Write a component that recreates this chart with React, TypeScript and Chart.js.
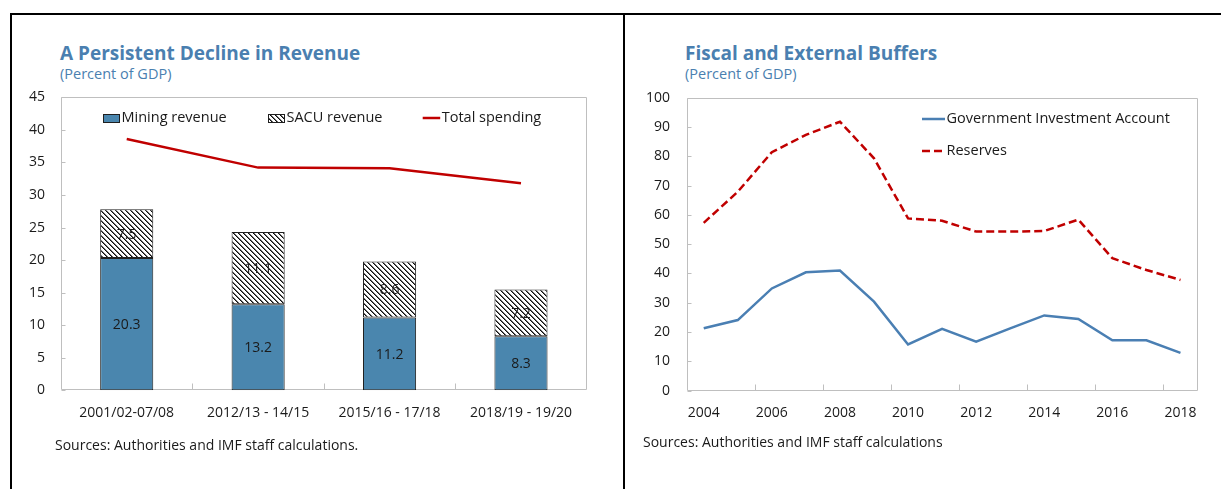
import React, { useEffect, useRef } from 'react';
import { Chart, registerables } from 'chart.js';

Chart.register(...registerables);

const FONT = '"Open Sans", "Noto Sans", sans-serif';

// ---------- Left chart data ----------
const revenuePeriods = ['2001/02-07/08', '2012/13 - 14/15', '2015/16 - 17/18', '2018/19 - 19/20'];
const miningRevenue = [20.3, 13.2, 11.2, 8.3];
const sacuRevenue = [7.5, 11.1, 8.6, 7.2];
const totalSpending = [38.6, 34.2, 34.1, 31.8];
const revenueAxis = { min: 0, max: 45, step: 5 };

// ---------- Right chart data ----------
const bufferYears = ['2004', '2005', '2006', '2007', '2008', '2009', '2010', '2011', '2012', '2013', '2014', '2015', '2016', '2017', '2018'];
const giaValues = [21.3, 24.1, 34.9, 40.4, 41.0, 30.4, 15.8, 21.1, 16.7, 21.3, 25.7, 24.5, 17.2, 17.2, 12.9];
const reservesValues = [57.3, 67.9, 81.4, 87.3, 91.8, 79.3, 58.8, 58.0, 54.3, 54.3, 54.5, 58.4, 45.2, 41.2, 37.8];
const bufferAxis = { min: 0, max: 100, step: 10 };

const BLUE_BAR = '#4a86ae';
const BLUE_LINE = '#4a7fb3';
const RED = '#c00000';
const TITLE_BLUE = '#4a7fb0';
const FRAME = '#bfbfbf';
const TEXT = '#1a1a1a';

function makeHatch(): CanvasPattern | string {
  const c = document.createElement('canvas');
  const n = 5;
  c.width = n;
  c.height = n;
  const g = c.getContext('2d');
  if (!g) return '#888';
  g.fillStyle = '#ffffff';
  g.fillRect(0, 0, n, n);
  for (let i = 0; i < n; i++) {
    g.fillStyle = '#0d0d0d';
    g.fillRect(i, i, 1, 1);
    g.fillStyle = '#6e6e6e';
    g.fillRect((i + 1) % n, i, 1, 1);
  }
  const p = g.createPattern(c, 'repeat');
  return p || '#888';
}

const noPad = (s: any) => {
  s.paddingTop = 0;
  s.paddingBottom = 0;
  s.paddingLeft = 0;
  s.paddingRight = 0;
};

// Frame around plot area + inside tick marks
const framePlugin = {
  id: 'frameTicks',
  beforeDatasetsDraw(chart: any, _args: any, opts: any) {
    const { ctx, chartArea: a, scales } = chart;
    ctx.save();
    ctx.strokeStyle = FRAME;
    ctx.lineWidth = 1;
    const l = Math.round(a.left) + 0.5;
    const r = Math.round(a.right) - 0.5;
    const t = Math.round(a.top) + 0.5;
    const b = Math.round(a.bottom) - 0.5;
    ctx.beginPath();
    ctx.rect(l, t, r - l, b - t);
    ctx.stroke();
    const ys = scales.y;
    ctx.beginPath();
    ys.ticks.forEach((tk: any) => {
      const y = Math.round(ys.getPixelForValue(tk.value)) + 0.5;
      ctx.moveTo(l, y);
      ctx.lineTo(l + 4, y);
    });
    const xs = scales.x;
    const every = opts.every || 1;
    const n = chart.data.labels.length;
    for (let i = every; i < n; i += every) {
      const x = Math.round((xs.getPixelForValue(i - 1) + xs.getPixelForValue(i)) / 2) + 0.5;
      ctx.moveTo(x, b);
      ctx.lineTo(x, b - 6);
    }
    ctx.stroke();
    ctx.restore();
  },
};

// Value labels inside bar segments
const barLabelPlugin = {
  id: 'barLabels',
  afterDatasetsDraw(chart: any) {
    const { ctx } = chart;
    ctx.save();
    ctx.font = `14px ${FONT}`;
    ctx.fillStyle = TEXT;
    ctx.textAlign = 'center';
    ctx.textBaseline = 'middle';
    chart.data.datasets.forEach((ds: any, di: number) => {
      if (ds.type !== 'bar') return;
      const meta = chart.getDatasetMeta(di);
      meta.data.forEach((el: any, i: number) => {
        const v = ds.data[i];
        ctx.fillText(v.toFixed(1), el.x, (el.y + el.base) / 2 + 1);
      });
    });
    ctx.restore();
  },
};

// Custom legend drawn inside plot area
const legendPlugin = {
  id: 'innerLegend',
  afterDraw(chart: any, _args: any, opts: any) {
    const { ctx, chartArea: a } = chart;
    ctx.save();
    ctx.font = `14.5px ${FONT}`;
    ctx.textBaseline = 'middle';
    ctx.textAlign = 'left';
    (opts.items || []).forEach((it: any) => {
      const x = a.left + it.dx;
      const y = a.top + it.dy;
      const ds = chart.data.datasets[it.dataset];
      if (it.kind === 'box') {
        ctx.fillStyle = ds.backgroundColor;
        ctx.fillRect(x, y - 4, 17, 8);
        ctx.strokeStyle = '#1f1f1f';
        ctx.lineWidth = 1;
        ctx.strokeRect(Math.round(x) + 0.5, Math.round(y - 4) + 0.5, 16, 8);
        ctx.fillStyle = TEXT;
        ctx.fillText(ds.label, x + 18.5, y);
      } else {
        ctx.strokeStyle = ds.borderColor;
        ctx.lineWidth = ds.borderWidth;
        ctx.setLineDash(ds.borderDash || []);
        ctx.beginPath();
        ctx.moveTo(x, y);
        ctx.lineTo(x + it.len, y);
        ctx.stroke();
        ctx.setLineDash([]);
        ctx.fillStyle = TEXT;
        ctx.fillText(ds.label, x + it.len + 1.5, y);
      }
    });
    ctx.restore();
  },
};

function RevenueChart() {
  const ref = useRef<HTMLCanvasElement | null>(null);
  useEffect(() => {
    if (!ref.current) return;
    const hatch = makeHatch();
    const chart = new Chart(ref.current, {
      type: 'bar',
      data: {
        labels: revenuePeriods,
        datasets: [
          {
            type: 'line',
            label: 'Total spending',
            data: totalSpending,
            borderColor: RED,
            borderWidth: 2.5,
            pointRadius: 0,
            tension: 0,
            stack: 'line',
            order: 0,
          } as any,
          {
            type: 'bar',
            label: 'Mining revenue',
            data: miningRevenue,
            backgroundColor: BLUE_BAR,
            borderColor: '#1f1f1f',
            borderWidth: 1,
            borderSkipped: false,
            barPercentage: 0.404,
            categoryPercentage: 1,
            stack: 'rev',
            order: 1,
          },
          {
            type: 'bar',
            label: 'SACU revenue',
            data: sacuRevenue,
            backgroundColor: hatch as any,
            borderColor: '#1f1f1f',
            borderWidth: 1,
            borderSkipped: false,
            barPercentage: 0.404,
            categoryPercentage: 1,
            stack: 'rev',
            order: 2,
          },
        ],
      },
      options: {
        responsive: false,
        animation: false,
        events: [],
        layout: { padding: { left: 0, top: 12.3, right: 33.3, bottom: 34.7 } },
        plugins: {
          legend: { display: false },
          tooltip: { enabled: false },
          frameTicks: { every: 1 },
          innerLegend: {
            items: [
              { dataset: 1, kind: 'box', dx: 42, dy: 20.7 },
              { dataset: 2, kind: 'box', dx: 207, dy: 20.7 },
              { dataset: 0, kind: 'line', dx: 361.7, dy: 20.7, len: 17.5 },
            ],
          },
        } as any,
        scales: {
          x: {
            stacked: true,
            grid: { display: false, drawTicks: false },
            border: { display: false },
            ticks: { padding: 14, color: TEXT, font: { family: FONT, size: 14 }, maxRotation: 0, autoSkip: false },
            afterFit: (s: any) => { s.height = 40; noPad(s); },
          },
          y: {
            stacked: true,
            min: revenueAxis.min,
            max: revenueAxis.max,
            grid: { display: false, drawTicks: false },
            border: { display: false },
            ticks: { stepSize: revenueAxis.step, padding: 16, color: TEXT, font: { family: FONT, size: 14 } },
            afterFit: (s: any) => { s.width = 61; noPad(s); },
          },
        },
      },
      plugins: [framePlugin, barLabelPlugin, legendPlugin],
    });
    return () => chart.destroy();
  }, []);
  return <canvas ref={ref} width={620} height={380} style={{ position: 'absolute', left: 0, top: 85, width: 620, height: 380 }} />;
}

function BuffersChart() {
  const ref = useRef<HTMLCanvasElement | null>(null);
  useEffect(() => {
    if (!ref.current) return;
    const chart = new Chart(ref.current, {
      type: 'line',
      data: {
        labels: bufferYears,
        datasets: [
          {
            label: 'Government Investment Account',
            data: giaValues,
            borderColor: BLUE_LINE,
            borderWidth: 2.5,
            pointRadius: 0,
            tension: 0,
          },
          {
            label: 'Reserves',
            data: reservesValues,
            borderColor: RED,
            borderWidth: 2.5,
            borderDash: [8, 4],
            pointRadius: 0,
            tension: 0,
          },
        ],
      },
      options: {
        responsive: false,
        animation: false,
        events: [],
        layout: { padding: { left: 0, top: 12.7, right: 23.5, bottom: 34.3 } },
        plugins: {
          legend: { display: false },
          tooltip: { enabled: false },
          frameTicks: { every: 2 },
          innerLegend: {
            items: [
              { dataset: 0, kind: 'line', dx: 235.3, dy: 21.3, len: 23 },
              { dataset: 1, kind: 'line', dx: 235.3, dy: 53.3, len: 23 },
            ],
          },
        } as any,
        scales: {
          x: {
            offset: true,
            grid: { display: false, drawTicks: false },
            border: { display: false },
            ticks: {
              padding: 13.6,
              color: TEXT,
              font: { family: FONT, size: 14 },
              maxRotation: 0,
              autoSkip: false,
              callback: (_v: any, i: number) => (i % 2 === 0 ? bufferYears[i] : ''),
            },
            afterFit: (s: any) => { s.height = 40; noPad(s); },
          },
          y: {
            min: bufferAxis.min,
            max: bufferAxis.max,
            grid: { display: false, drawTicks: false },
            border: { display: false },
            ticks: { stepSize: bufferAxis.step, padding: 16.7, color: TEXT, font: { family: FONT, size: 14 } },
            afterFit: (s: any) => { s.width = 61.7; noPad(s); },
          },
        },
      },
      plugins: [framePlugin, legendPlugin],
    });
    return () => chart.destroy();
  }, []);
  return <canvas ref={ref} width={596} height={380} style={{ position: 'absolute', left: 625, top: 85, width: 596, height: 380 }} />;
}

const titleStyle: React.CSSProperties = {
  position: 'absolute',
  fontFamily: FONT,
  fontWeight: 700,
  fontSize: 19,
  lineHeight: '19px',
  color: TITLE_BLUE,
  whiteSpace: 'nowrap',
};
const subStyle: React.CSSProperties = {
  position: 'absolute',
  fontFamily: FONT,
  fontSize: 14.5,
  lineHeight: '14.5px',
  color: TITLE_BLUE,
  whiteSpace: 'nowrap',
};
const srcStyle: React.CSSProperties = {
  position: 'absolute',
  fontFamily: FONT,
  fontSize: 14,
  lineHeight: '14px',
  color: TEXT,
  whiteSpace: 'nowrap',
};

export default function App() {
  return (
    <div style={{ position: 'absolute', left: 0, top: 0, width: 1221, height: 489, background: '#fff', overflow: 'hidden' }}>
      <div style={{ position: 'absolute', left: 10, top: 13, width: 1211, height: 2, background: '#000' }} />
      <div style={{ position: 'absolute', left: 10, top: 13, width: 2, height: 476, background: '#000' }} />
      <div style={{ position: 'absolute', left: 623, top: 13, width: 2, height: 476, background: '#000' }} />

      <div style={{ ...titleStyle, left: 60, top: 44 }}>A Persistent Decline in Revenue</div>
      <div style={{ ...subStyle, left: 60, top: 67 }}>(Percent of GDP)</div>
      <RevenueChart />
      <div style={{ ...srcStyle, left: 55, top: 438 }}>Sources: Authorities and IMF staff calculations.</div>

      <div style={{ ...titleStyle, left: 685, top: 44 }}>Fiscal and External Buffers</div>
      <div style={{ ...subStyle, left: 685, top: 67 }}>(Percent of GDP)</div>
      <BuffersChart />
      <div style={{ ...srcStyle, left: 643, top: 435 }}>Sources: Authorities and IMF staff calculations</div>
    </div>
  );
}
